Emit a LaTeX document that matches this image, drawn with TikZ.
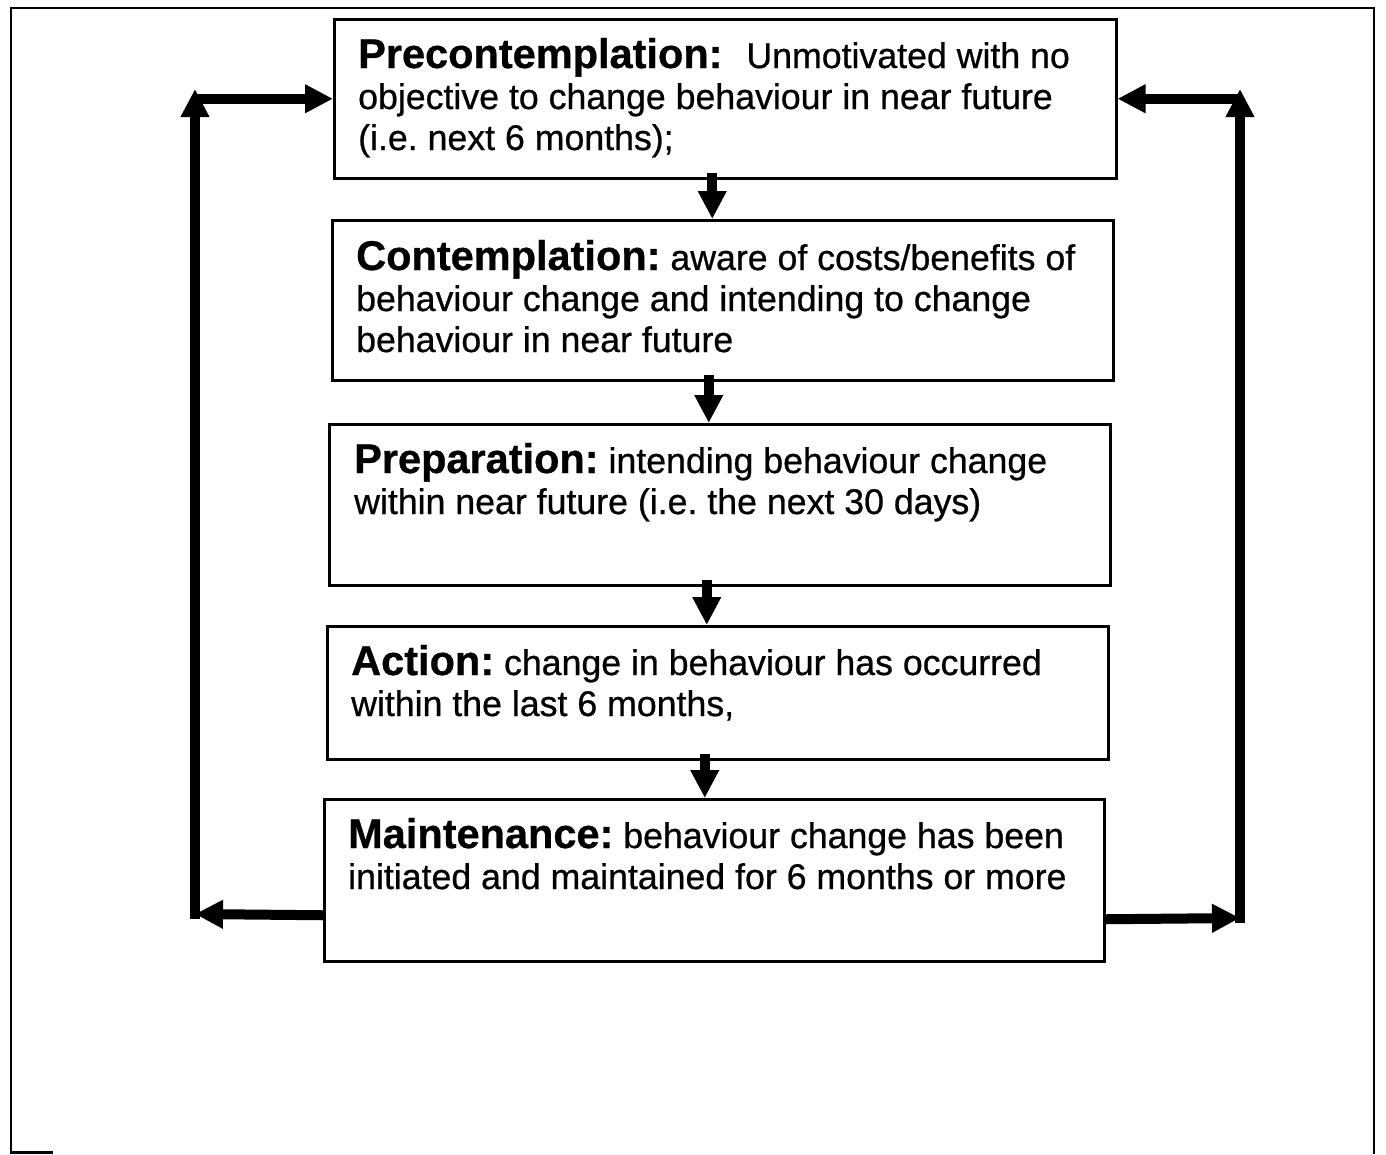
\documentclass[tikz,border=0pt]{standalone}
\usepackage{fontspec}
\setmainfont{Liberation Sans}[FakeBold=0.7]
\usetikzlibrary{arrows.meta}
\tikzset{
  stagebox/.style={draw, line width=2.5pt, inner sep=0pt, anchor=north west},
  stagetext/.style={anchor=base west, align=left, inner sep=0pt, font=\fontsize{35.7}{41}\selectfont},
  flow/.style={line width=10pt, -{Triangle[length=28pt,width=27pt]}},
}
\newcommand{\stagetitle}[1]{{\fontsize{41.5}{41}\selectfont\bfseries #1}}
\frenchspacing
\begin{document}
\begin{tikzpicture}[x=1pt,y=-1pt]
\useasboundingbox (0,0) rectangle (1386,1154);
% outer frame
\draw[line width=2.5pt] (11,1154) -- (11,8) -- (1374,8) -- (1374,1154);
\draw[line width=2.5pt] (11,1152.5) -- (53,1152.5);
% boxes
\node[stagebox, minimum width=782pt, minimum height=159pt] (b1) at (333,18) {};
\node[stagebox, minimum width=781pt, minimum height=160pt] (b2) at (331,219) {};
\node[stagebox, minimum width=781pt, minimum height=161pt] (b3) at (328,423) {};
\node[stagebox, minimum width=781pt, minimum height=133pt] (b4) at (326,625) {};
\node[stagebox, minimum width=780pt, minimum height=162pt] (b5) at (323,798) {};
% texts (anchor = baseline of last line)
\node[stagetext] (t1) at (358,150) {\stagetitle{Precontemplation:}\hspace{14pt} Unmotivated with no\\objective to change behaviour in near future\\(i.e. next 6 months);};
\node[stagetext] (t2) at (356,352) {\stagetitle{Contemplation:} aware of costs/benefits of\\behaviour change and intending to change\\behaviour in near future};
\node[stagetext] (t3) at (354,514) {\stagetitle{Preparation:} intending behaviour change\\within near future (i.e. the next 30 days)};
\node[stagetext] (t4) at (351,716) {\stagetitle{Action:} change in behaviour has occurred\\within the last 6 months,};
\node[stagetext] (t5) at (348,889) {\stagetitle{Maintenance:} behaviour change has been\\initiated and maintained for 6 months or more};
% down arrows
\coordinate (a1) at ([xshift=-13pt,yshift=7pt]b1.south);
\coordinate (a2) at ([xshift=-14pt,yshift=7pt]b2.south);
\coordinate (a3) at ([xshift=-13pt,yshift=7pt]b3.south);
\coordinate (a4) at ([xshift=-13pt,yshift=7pt]b4.south);
\draw[flow] (a1) -- (a1 |- b2.north);
\draw[flow] (a2) -- (a2 |- b3.north);
\draw[flow] (a3) -- (a3 |- b4.north);
\draw[flow] (a4) -- (a4 |- b5.north);
% left loop
\coordinate (LB) at (195,914);
\coordinate (LT) at (195,89);
\draw[flow] ([yshift=-35pt]b5.west) -- (LB);
\draw[flow] ([yshift=-5pt]LB) -- (LT);
\draw[flow] (LT |- b1.west) -- (b1.west);
% right loop
\coordinate (RB) at (1240,918);
\coordinate (RT) at (1240,89);
\draw[flow] ([yshift=-39pt]b5.east) -- (RB);
\draw[flow] ([yshift=-5pt]RB) -- (RT);
\draw[flow] (RT |- b1.east) -- (b1.east);
\end{tikzpicture}
\end{document}
